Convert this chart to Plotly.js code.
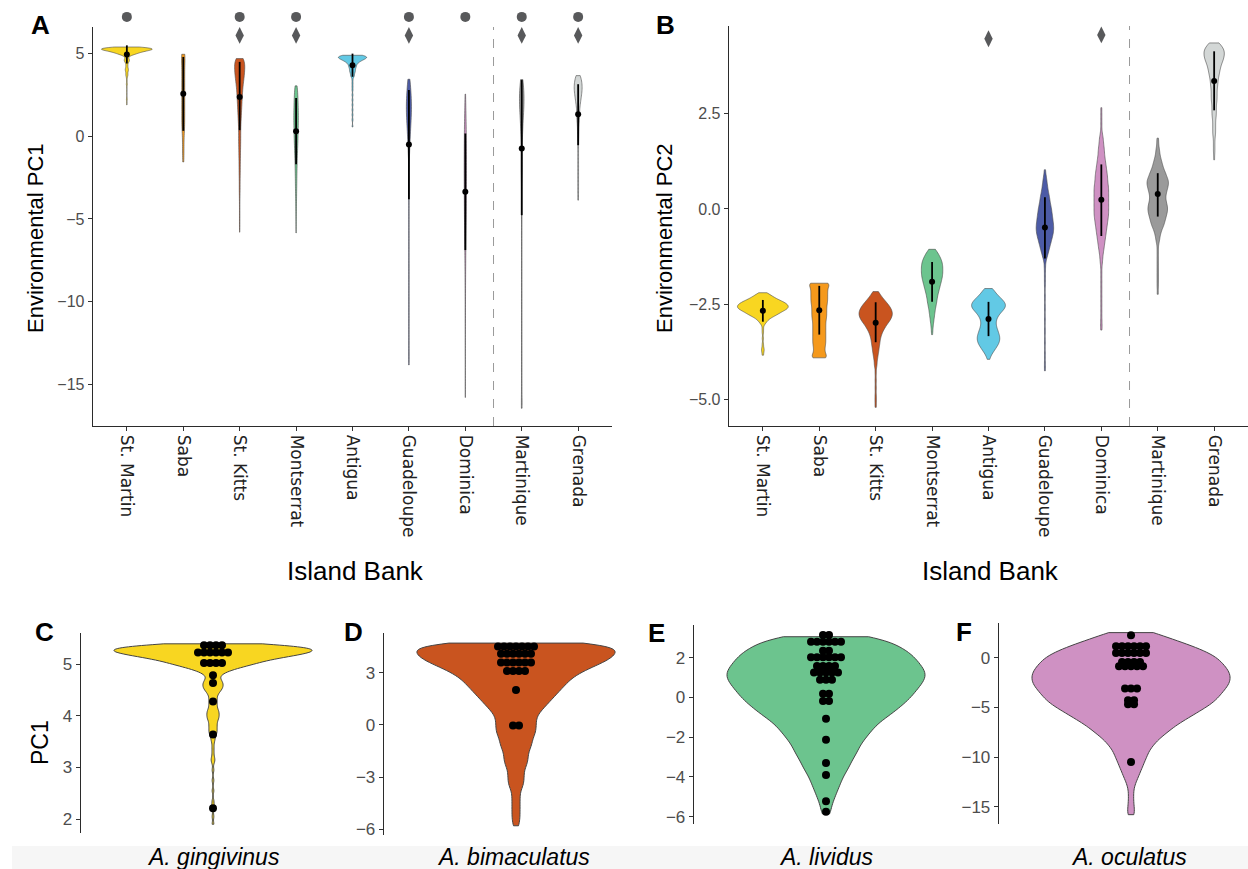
<!DOCTYPE html>
<html>
<head>
<meta charset="utf-8">
<script src="https://cdn.plot.ly/plotly-3.0.1.min.js"></script>
<style>
  html, body { margin: 0; padding: 0; background: #ffffff; }
  #chart { width: 1248px; height: 869px; }
</style>
</head>
<body>
<div id="chart"></div>
<script>
// ---------------------------------------------------------------
// Island banks (x categories for panels A and B)
// ---------------------------------------------------------------
const islands = ['St. Martin', 'Saba', 'St. Kitts', 'Montserrat', 'Antigua',
                 'Guadeloupe', 'Dominica', 'Martinique', 'Grenada'];

// Environmental PC1 per island, as [value, frequency] pairs
const pc1StMartin = [[5.40,25],[5.35,45],[5.30,50],[5.25,50],[5.20,44],[5.15,36],[5.10,29],[5.05,23],
  [5.00,20],[4.95,14],[4.90,10],[4.85,6],[4.80,4],[4.75,3],[4.70,4],[4.65,5],[4.60,5],[4.55,5],[4.50,4],
  [4.45,3],[4.40,2],[4.35,2],[4.30,2],[4.25,2],[4.20,2],[4.15,2],[4.10,3],[4.05,3],[4.00,3],[3.95,3],
  [3.90,2],[3.85,2],[3.80,2],[3.75,2],[3.70,2],[3.65,2],[3.60,1],[3.55,1],[3.50,1],[3.40,1],[3.30,1],
  [3.20,1],[3.15,1],[3.10,1],[2.95,1],[2.75,1],[2.55,1],[2.35,1],[2.25,1],[2.20,1],[2.05,1],[1.90,1]];
const pc1Saba = [[4.96,3],[4.5,2],[4.0,2],[3.5,2],[3.0,2],[2.5,2],[2.0,2],[1.5,2],[1.0,2],[0.5,2],
  [0.0,1],[-0.5,1],[-1.0,1],[-1.55,1]];
const pc1StKitts = [[4.70,20],[4.50,24],[4.25,25],[4.00,25],[3.75,23],[3.50,21],[3.25,18],[3.00,16],
  [2.75,14],[2.50,13],[2.25,12],[2.00,11],[1.75,10],[1.50,9],[1.25,8],[1.00,7],[0.75,6],[0.50,5],
  [0.25,5],[0.00,5],[-0.25,5],[-0.50,5],[-0.75,4],[-1.00,4],[-1.25,4],[-1.50,3],[-1.75,3],[-2.00,3],
  [-2.25,3],[-2.50,2],[-2.75,2],[-3.00,2],[-3.25,2],[-3.50,2],[-3.75,1],[-4.00,1],[-4.25,1],[-4.50,1],
  [-4.75,1],[-5.00,1],[-5.25,1],[-5.50,1],[-5.80,1]];
const pc1Montserrat = [[3.05,6],[3.00,12],[2.75,16],[2.50,19],[2.25,21],[2.00,22],[1.75,23],[1.50,24],
  [1.25,25],[1.00,25],[0.75,24],[0.50,23],[0.25,22],[0.00,21],[-0.25,20],[-0.50,18],[-0.75,17],
  [-1.00,15],[-1.25,13],[-1.50,12],[-1.75,11],[-2.00,10],[-2.25,9],[-2.50,8],[-2.75,8],[-3.00,7],
  [-3.25,6],[-3.50,6],[-3.75,5],[-4.00,4],[-4.25,4],[-4.50,3],[-4.75,3],[-5.00,2],[-5.25,2],
  [-5.50,1],[-5.75,1],[-5.85,1]];
const pc1Antigua = [[4.90,12],[4.80,16],[4.70,14],[4.60,10],[4.50,7],[4.40,5],[4.30,4],[4.20,4],
  [4.10,3],[4.00,3],[3.90,3],[3.80,2],[3.70,2],[3.60,2],[3.40,1],[3.20,1],[3.00,1],[2.80,1],[2.50,1],
  [2.20,1],[1.90,1],[1.60,1],[1.30,1],[1.00,1],[0.57,1]];
const pc1Guadeloupe = [[3.45,2],[3.0,4],[2.5,5],[2.0,6],[1.5,6],[1.0,5],[0.5,4],[0.0,3],[-0.5,2],
  [-1.0,2],[-2.0,1],[-3.0,1],[-4.0,1],[-5.0,1],[-6.0,1],[-7.0,1],[-8.0,1],[-9.0,1],[-10.0,1],
  [-11.0,1],[-12.0,1],[-13.0,1],[-13.83,1]];
const pc1Dominica = [[2.55,4],[2.5,3],[2.0,9],[1.5,13],[1.0,16],[0.5,19],[0.0,21],[-0.5,22],
  [-1.0,23],[-1.5,24],[-2.0,24],[-2.5,24],[-3.0,23],[-3.5,22],[-4.0,21],[-4.5,20],[-5.0,18],
  [-5.5,16],[-6.0,14],[-6.5,12],[-7.0,10],[-7.5,9],[-8.0,7],[-8.5,6],[-9.0,5],[-9.5,4],[-10.0,4],
  [-10.5,3],[-11.0,3],[-11.5,2],[-12.0,2],[-12.5,1],[-13.0,1],[-13.8,1],[-14.6,1],[-15.3,1],[-15.8,1]];
const pc1Martinique = [[3.43,2],[3.0,4],[2.5,5],[2.0,5],[1.5,4],[1.0,3],[0.5,2],[0.0,2],[-1.0,2],
  [-2.0,2],[-3.0,1],[-4.0,1],[-5.0,1],[-6.0,1],[-7.0,1],[-8.0,1],[-9.0,1],[-10.0,1],[-11.0,1],
  [-12.0,1],[-13.0,1],[-14.0,1],[-15.0,1],[-16.0,1],[-16.45,1]];
const pc1Grenada = [[3.67,3],[3.4,5],[3.1,6],[2.8,6],[2.5,5],[2.2,4],[1.9,3],[1.6,2],[1.3,2],[1.0,2],
  [0.7,1],[0.4,1],[0.1,1],[-0.3,1],[-0.8,1],[-1.3,1],[-1.8,1],[-2.3,1],[-2.8,1],[-3.3,1],[-3.86,1]];

// Environmental PC2 per island, as [value, frequency] pairs
const pc2StMartin = [[-2.20,3],[-2.25,5],[-2.30,7],[-2.35,9],[-2.40,12],[-2.45,15],[-2.50,17],
  [-2.55,18],[-2.60,18],[-2.65,16],[-2.70,13],[-2.75,11],[-2.80,9],[-2.85,6],[-2.90,4],[-2.95,3],
  [-3.00,2],[-3.05,1],[-3.15,1],[-3.25,1],[-3.40,1],[-3.55,1],[-3.65,1],[-3.70,1],[-3.75,1],[-3.84,1]];
const pc2Saba = [[-1.95,14],[-2.05,9],[-2.15,9],[-2.25,9],[-2.35,9],[-2.45,9],[-2.55,8],[-2.65,8],
  [-2.75,8],[-2.85,8],[-2.95,7],[-3.05,7],[-3.15,7],[-3.25,7],[-3.35,7],[-3.45,7],[-3.55,7],
  [-3.65,6],[-3.75,6],[-3.85,6],[-3.91,8]];
const pc2StKitts = [[-2.17,2],[-2.25,4],[-2.35,7],[-2.45,10],[-2.55,13],[-2.65,15],[-2.75,16],
  [-2.85,15],[-2.95,13],[-3.05,10],[-3.15,8],[-3.25,6],[-3.35,5],[-3.45,4],[-3.55,4],[-3.65,3],
  [-3.75,3],[-3.85,2],[-3.95,2],[-4.10,2],[-4.30,1],[-4.50,1],[-4.70,1],[-4.90,1],[-5.05,1],[-5.21,1]];
const pc2Montserrat = [[-1.06,3],[-1.15,6],[-1.25,8],[-1.35,10],[-1.45,11],[-1.55,11],[-1.65,11],
  [-1.75,11],[-1.85,10],[-1.95,9],[-2.05,8],[-2.15,7],[-2.25,6],[-2.35,5],[-2.45,5],[-2.55,4],
  [-2.65,3],[-2.75,3],[-2.85,2],[-2.95,2],[-3.05,1],[-3.15,1],[-3.30,1]];
const pc2Antigua = [[-2.09,2],[-2.15,4],[-2.25,7],[-2.35,10],[-2.45,13],[-2.55,14],[-2.65,12],
  [-2.75,9],[-2.85,7],[-2.95,6],[-3.05,6],[-3.15,7],[-3.25,8],[-3.35,9],[-3.45,9],[-3.55,8],
  [-3.65,6],[-3.75,4],[-3.85,2],[-3.95,1]];
const pc2Guadeloupe = [[1.03,1],[0.9,1],[0.8,2],[0.7,2],[0.6,3],[0.5,3],[0.4,4],[0.3,5],[0.2,5],
  [0.1,6],[0.0,7],[-0.1,7],[-0.2,8],[-0.3,8],[-0.4,9],[-0.5,9],[-0.6,9],[-0.7,8],[-0.8,7],[-0.9,6],
  [-1.0,5],[-1.1,4],[-1.2,3],[-1.3,2],[-1.45,1],[-1.6,1],[-1.8,1],[-2.0,1],[-2.3,1],[-2.6,1],
  [-2.9,1],[-3.2,1],[-3.5,1],[-3.8,1],[-4.05,1],[-4.25,1]];
const pc2Dominica = [[2.66,1],[2.45,1],[2.25,1],[2.05,1],[1.9,2],[1.8,2],[1.7,2],[1.6,3],[1.5,3],
  [1.4,3],[1.3,4],[1.2,4],[1.1,5],[1.0,5],[0.9,6],[0.8,6],[0.7,6],[0.6,7],[0.5,7],[0.4,7],[0.3,7],
  [0.2,7],[0.1,7],[0.0,7],[-0.1,7],[-0.2,7],[-0.3,6],[-0.4,6],[-0.5,5],[-0.6,5],[-0.7,4],[-0.8,4],
  [-0.9,3],[-1.0,3],[-1.1,2],[-1.2,2],[-1.35,2],[-1.5,1],[-1.7,1],[-1.9,1],[-2.1,1],[-2.3,1],
  [-2.5,1],[-2.7,1],[-2.9,1],[-3.05,1],[-3.18,1]];
const pc2Martinique = [[1.86,1],[1.75,1],[1.65,1],[1.55,2],[1.45,2],[1.35,3],[1.25,4],[1.15,5],
  [1.05,6],[0.95,8],[0.85,9],[0.75,11],[0.65,11],[0.55,10],[0.45,9],[0.35,8],[0.25,8],[0.15,9],
  [0.05,10],[-0.05,10],[-0.15,9],[-0.25,8],[-0.35,7],[-0.45,6],[-0.55,4],[-0.65,3],[-0.75,2],
  [-0.85,2],[-1.0,1],[-1.15,1],[-1.3,1],[-1.45,1],[-1.6,1],[-1.75,1],[-1.9,1],[-2.05,1],[-2.24,1]];
const pc2Grenada = [[4.36,8],[4.25,12],[4.15,14],[4.05,14],[3.95,13],[3.85,11],[3.75,9],[3.65,8],
  [3.55,7],[3.45,6],[3.35,5],[3.25,5],[3.15,4],[3.05,4],[2.95,4],[2.85,4],[2.75,3],[2.65,3],
  [2.55,3],[2.45,3],[2.35,2],[2.25,2],[2.15,2],[2.05,2],[1.95,2],[1.85,1],[1.75,1],[1.65,1],
  [1.55,1],[1.45,1],[1.29,1]];

// Mean and spread (low / high) per island
const pc1Mean = [4.94, 2.58, 2.38, 0.31, 4.30, -0.50, -3.36, -0.74, 1.33];
const pc1Low  = [4.40, 0.33, 0.37, -1.69, 3.60, -3.80, -6.88, -4.77, -0.54];
const pc1High = [5.50, 4.80, 4.50, 2.32, 5.00, 2.80, 0.17, 3.40, 3.15];
const pc2Mean = [-2.67, -2.66, -2.99, -1.91, -2.89, -0.49, 0.24, 0.39, 3.36];
const pc2Low  = [-2.96, -3.30, -3.50, -2.44, -3.34, -1.30, -0.71, -0.20, 2.59];
const pc2High = [-2.39, -2.02, -2.45, -1.39, -2.44, 0.31, 1.17, 0.94, 4.14];

// Islands carrying significance symbols
const pc1CircleIslands  = ['St. Martin', 'St. Kitts', 'Montserrat', 'Guadeloupe', 'Dominica', 'Martinique', 'Grenada'];
const pc1DiamondIslands = ['St. Kitts', 'Montserrat', 'Guadeloupe', 'Martinique', 'Grenada'];
const pc2DiamondIslands = ['Antigua', 'Dominica'];

// Species panels: locality PC1 scores
const species = ['A. gingivinus', 'A. bimaculatus', 'A. lividus', 'A. oculatus'];
const gingivinusPC1 = [5.37,5.37,5.37,5.37, 5.23,5.23,5.23,5.23,5.23,5.23, 5.03,5.03,5.03,5.03,
  4.79, 4.64, 4.28, 3.64, 2.21];
const bimaculatusPC1 = [4.51,4.51,4.51,4.51,4.51,4.51,4.51, 4.09,4.09,4.09,4.09,4.09,4.09,
  3.58,3.58,3.58,3.58,3.58,3.58, 3.10,3.10,3.10,3.10, 2.00, -0.04,-0.04];
const lividusPC1 = [3.14,3.14, 2.80,2.80,2.80,2.80,2.80,2.80, 2.35,2.35, 2.02,2.02,2.02,2.02,2.02,2.02,
  1.58,1.58,1.58,1.58, 1.25,1.25,1.25,1.25,1.25, 0.88,0.88,0.88, 0.18,0.18, -0.18,-0.18,
  -1.08, -2.13, -3.30, -3.90, -5.23, -5.75];
const oculatusPC1 = [2.28, 1.17,1.17,1.17,1.17,1.17,1.17, 0.50,0.50,0.50,0.50,0.50,0.50,
  -0.40,-0.40,-0.40,-0.40, -0.84,-0.84,-0.84,-0.84,-0.84, -3.09,-3.09,-3.09, -4.26,-4.26,
  -4.66,-4.66, -10.50];

// ---------------------------------------------------------------
// Styling
// ---------------------------------------------------------------
const W = 1248, H = 869;
const fx = px => px / W;
const fy = py => 1 - py / H;

const islandColors = ['#F8D621', '#F5991C', '#C9541F', '#6CC48E', '#62C9E5',
                      '#4C5BA6', '#CF91C3', '#9A9A9A', '#D3D7D6'];
const widthA = [0.9, 0.06, 0.18, 0.08, 0.5, 0.09, 0.04, 0.08, 0.14];
const bwA    = [0.05, 0.4, 0.28, 0.3, 0.08, 0.5, 0.5, 0.5, 0.25];
const widthB = [0.9, 0.34, 0.59, 0.38, 0.6, 0.31, 0.26, 0.38, 0.36];
const bwB    = [0.05, 0.08, 0.08, 0.1, 0.07, 0.1, 0.1, 0.08, 0.08];

const pc1Tables = [pc1StMartin, pc1Saba, pc1StKitts, pc1Montserrat, pc1Antigua,
                   pc1Guadeloupe, pc1Dominica, pc1Martinique, pc1Grenada];
const pc2Tables = [pc2StMartin, pc2Saba, pc2StKitts, pc2Montserrat, pc2Antigua,
                   pc2Guadeloupe, pc2Dominica, pc2Martinique, pc2Grenada];

// expand a [value, frequency] table into the sample list the violin KDE uses
function expand(table) {
  const out = [];
  table.forEach(([v, n]) => { for (let i = 0; i < n; i++) out.push(v); });
  return out;
}

const traces = [];

function islandViolins(tables, widths, bws, xa, ya) {
  tables.forEach((tbl, i) => {
    const ys = expand(tbl);
    traces.push({
      type: 'violin', xaxis: xa, yaxis: ya,
      x: ys.map(() => islands[i]), y: ys,
      name: islands[i], width: widths[i], bandwidth: bws[i],
      spanmode: 'hard', points: false,
      box: { visible: false }, meanline: { visible: false },
      fillcolor: islandColors[i], opacity: 1,
      line: { color: '#4a4a4a', width: 0.6 },
      hoverinfo: 'skip'
    });
  });
}
islandViolins(pc1Tables, widthA, bwA, 'x', 'y');
islandViolins(pc2Tables, widthB, bwB, 'x2', 'y2');

function pointRange(mean, lo, hi, xa, ya) {
  traces.push({
    type: 'scatter', mode: 'markers', xaxis: xa, yaxis: ya,
    x: islands, y: mean,
    marker: { color: '#000000', size: 6 },
    error_y: {
      type: 'data', symmetric: false,
      array: mean.map((m, i) => hi[i] - m),
      arrayminus: mean.map((m, i) => m - lo[i]),
      color: '#000000', thickness: 1.8, width: 0
    },
    hoverinfo: 'skip'
  });
}
pointRange(pc1Mean, pc1Low, pc1High, 'x', 'y');
pointRange(pc2Mean, pc2Low, pc2High, 'x2', 'y2');

function markerRow(names, yVal, symbol, size, xa, ya) {
  traces.push({
    type: 'scatter', mode: 'markers', xaxis: xa, yaxis: ya,
    x: names, y: names.map(() => yVal),
    marker: { symbol: symbol, size: size, color: '#58595B' },
    hoverinfo: 'skip'
  });
}
// circles sit above the PC1 axis, on a taller overlay scale (x7 / y7)
markerRow(pc1CircleIslands, 7.22, 'circle', 10, 'x7', 'y7');
markerRow(pc1DiamondIslands, 6.1, 'diamond-tall', 12, 'x', 'y');
markerRow(['Antigua'], 4.47, 'diamond-tall', 12, 'x2', 'y2');
markerRow(['Dominica'], 4.57, 'diamond-tall', 12, 'x2', 'y2');

// Species panels C-F: background violin plus stacked locality dots
const speciesPanels = [
  { table: pc1StMartin,   bw: 0.05, color: '#F8D621', dots: gingivinusPC1,  xa: 'x3', ya: 'y3',
    dom: [81, 345],  yDom: [833, 633], xr: [-1, 1],     yr: [1.73, 5.61] },
  { table: pc1StKitts,    bw: 0.28, color: '#C9541F', dots: bimaculatusPC1, xa: 'x4', ya: 'y4',
    dom: [384, 648], yDom: [835, 633], xr: [-1, 1],     yr: [-6.33, 5.28] },
  { table: pc1Montserrat, bw: 0.3,  color: '#6CC48E', dots: lividusPC1,     xa: 'x5', ya: 'y5',
    dom: [694, 958], yDom: [824, 625], xr: [-1, 1],     yr: [-6.37, 3.64] },
  { table: pc1Dominica,   bw: 0.5,  color: '#CF91C3', dots: oculatusPC1,    xa: 'x6', ya: 'y6',
    dom: [999, 1248], yDom: [824, 623], xr: [-1, 0.886], yr: [-16.74, 3.52] }
];

const dotGapPx = 6;
speciesPanels.forEach(p => {
  const ys = expand(p.table);
  traces.push({
    type: 'violin', xaxis: p.xa, yaxis: p.ya,
    x: ys.map(() => 0), y: ys, width: 1.5, bandwidth: p.bw,
    spanmode: 'hard', points: false,
    box: { visible: false }, meanline: { visible: false },
    fillcolor: p.color, opacity: 1,
    line: { color: '#444444', width: 1 },
    hoverinfo: 'skip'
  });
  // centred horizontal stacks of equal values (dot plot)
  const pxPerUnit = (p.dom[1] - p.dom[0]) / (p.xr[1] - p.xr[0]);
  const gap = dotGapPx / pxPerUnit;
  const groups = new Map();
  p.dots.forEach(v => groups.set(v, (groups.get(v) || 0) + 1));
  const dx = [], dy = [];
  groups.forEach((n, v) => {
    for (let k = 0; k < n; k++) { dx.push((k - (n - 1) / 2) * gap); dy.push(v); }
  });
  traces.push({
    type: 'scatter', mode: 'markers', xaxis: p.xa, yaxis: p.ya,
    x: dx, y: dy, cliponaxis: false,
    marker: { color: '#000000', size: 8 },
    hoverinfo: 'skip'
  });
});

// ---------------------------------------------------------------
// Axes
// ---------------------------------------------------------------
const lineStyle = {
  showline: true, linecolor: '#2b2b2b', linewidth: 1.3,
  ticks: 'outside', ticklen: 4, tickwidth: 1, tickcolor: '#333333',
  showgrid: false, zeroline: false, fixedrange: true
};
const yTickFont = { family: 'Liberation Sans, Arial, sans-serif', size: 16, color: '#4D4D4D' };
const xTickFont = { family: 'DejaVu Sans, sans-serif', size: 17, color: '#222222' };

// PC1 scale: 16.55 px per unit; the overlay scale extends it to the top edge
const pc1Range = [-17.52, 6.61];
const pc1TopPx = 27, pc1BottomPx = 426;
const pc1PxPerUnit = (pc1BottomPx - pc1TopPx) / (pc1Range[1] - pc1Range[0]);

const layout = {
  width: W, height: H,
  margin: { l: 0, r: 0, t: 0, b: 0 },
  paper_bgcolor: '#ffffff', plot_bgcolor: 'rgba(0,0,0,0)',
  showlegend: false, violinmode: 'overlay',
  xaxis: Object.assign({}, lineStyle, {
    domain: [fx(93), fx(612)], anchor: 'y', type: 'category',
    categoryorder: 'array', categoryarray: islands, range: [-0.6, 8.6],
    tickangle: 90, tickfont: xTickFont
  }),
  yaxis: Object.assign({}, lineStyle, {
    domain: [fy(pc1BottomPx), fy(pc1TopPx)], anchor: 'x', range: pc1Range,
    tickvals: [-15, -10, -5, 0, 5], tickfont: yTickFont
  }),
  xaxis7: {
    domain: [fx(93), fx(612)], anchor: 'y7', type: 'category',
    categoryorder: 'array', categoryarray: islands, range: [-0.6, 8.6],
    visible: false, fixedrange: true
  },
  yaxis7: {
    domain: [fy(pc1BottomPx), 1], anchor: 'x7',
    range: [pc1Range[0], pc1Range[1] + pc1TopPx / pc1PxPerUnit],
    visible: false, fixedrange: true
  },
  xaxis2: Object.assign({}, lineStyle, {
    domain: [fx(729), 1], anchor: 'y2', type: 'category',
    categoryorder: 'array', categoryarray: islands, range: [-0.6, 8.6],
    tickangle: 90, tickfont: xTickFont
  }),
  yaxis2: Object.assign({}, lineStyle, {
    domain: [fy(426), fy(26)], anchor: 'x2', range: [-5.70, 4.805],
    tickvals: [-5, -2.5, 0, 2.5], tickformat: '.1f', tickfont: yTickFont
  }),
  shapes: [
    { type: 'rect', xref: 'paper', yref: 'paper', x0: fx(12), x1: 1, y0: 0, y1: fy(846),
      fillcolor: '#F6F6F6', line: { width: 0 }, layer: 'below' },
    { type: 'line', xref: 'x', yref: 'y domain', x0: 6.5, x1: 6.5, y0: 0, y1: 1,
      line: { color: '#9A9A9A', width: 1, dash: 'dash' } },
    { type: 'line', xref: 'x2', yref: 'y2 domain', x0: 6.5, x1: 6.5, y0: 0, y1: 1,
      line: { color: '#9A9A9A', width: 1, dash: 'dash' } }
  ],
  annotations: []
};

const bottomTicks = [[2, 3, 4, 5], [-6, -3, 0, 3], [-6, -4, -2, 0, 2], [-15, -10, -5, 0]];
speciesPanels.forEach((p, i) => {
  const n = i + 3;
  layout['xaxis' + n] = {
    domain: [fx(p.dom[0]), fx(p.dom[1])], anchor: 'y' + n, range: p.xr,
    visible: false, fixedrange: true
  };
  layout['yaxis' + n] = Object.assign({}, lineStyle, {
    domain: [fy(p.yDom[0]), fy(p.yDom[1])], anchor: 'x' + n, range: p.yr,
    tickvals: bottomTicks[i],
    tickfont: { family: 'Liberation Sans, Arial, sans-serif', size: 17, color: '#4D4D4D' }
  });
});

function note(text, px, py, size, extra) {
  layout.annotations.push(Object.assign({
    text: text, xref: 'paper', yref: 'paper', x: fx(px), y: fy(py),
    xanchor: 'center', yanchor: 'middle', showarrow: false,
    font: { family: 'Liberation Sans, Arial, sans-serif', size: size, color: '#000000' }
  }, extra || {}));
}
// panel letters
[['A', 40, 25], ['B', 665, 25], ['C', 44, 632], ['D', 353, 632], ['E', 656, 633], ['F', 964, 632]]
  .forEach(([t, x, y]) => note('<b>' + t + '</b>', x, y, 26));
// axis titles
note('Environmental PC1', 36, 238, 22, { textangle: -90 });
note('Environmental PC2', 665, 238, 22, { textangle: -90 });
note('Island Bank', 355, 571, 26);
note('Island Bank', 990, 571, 26);
note('PC1', 40, 743, 23, { textangle: -90 });
// species names under panels C-F
[[213, 857], [513, 857], [826, 857], [1129, 857]].forEach(([x, y], i) =>
  note('<i>' + species[i] + '</i>', x, y, 23));

Plotly.newPlot('chart', traces, layout, { staticPlot: true, displayModeBar: false });
</script>
</body>
</html>
